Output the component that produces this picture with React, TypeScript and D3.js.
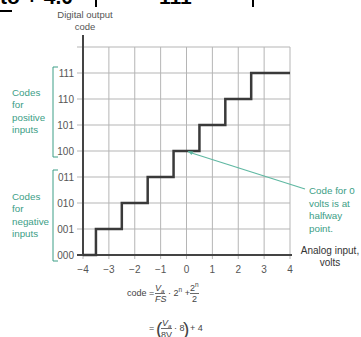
import React, { useEffect, useRef } from 'react';
import * as d3 from 'd3';

// output codes (index = code value)
const codes = ['000', '001', '010', '011', '100', '101', '110', '111'];
// analog input ticks, volts
const voltTicks = [-4, -3, -2, -1, 0, 1, 2, 3, 4];
// staircase: input where each code starts
const stepVolts = [-4, -3.5, -2.5, -1.5, -0.5, 0.5, 1.5, 2.5, 4];
const stepCodes = [0, 1, 2, 3, 4, 5, 6, 7, 7];

const posLabel = ['Codes', 'for', 'positive', 'inputs'];
const negLabel = ['Codes', 'for', 'negative', 'inputs'];
const noteLabel = ['Code for 0', 'volts is at', 'halfway', 'point.'];

const TEAL = '#3c9e86';
const FONT = 'Liberation Sans, Arial, sans-serif';

export default function App() {
  const ref = useRef<SVGSVGElement>(null);

  useEffect(() => {
    const svg = d3.select(ref.current);
    svg.selectAll('*').remove();
    svg.style('font-family', FONT);

    const x = d3.scaleLinear().domain([-4, 4]).range([83, 290]);
    const y = d3.scaleLinear().domain([0, 8]).range([255, 47]);

    // cropped heading from the page above
    svg.append('text').attr('x', 0).attr('y', 4).attr('font-size', 21).attr('font-weight', 'bold').text('to + 4.0');
    svg.append('rect').attr('x', 95).attr('y', 0).attr('width', 2).attr('height', 7).attr('fill', '#000');
    svg.append('text').attr('x', 159).attr('y', 4).attr('font-size', 21).attr('font-weight', 'bold').text('111');
    svg.append('rect').attr('x', 252).attr('y', 0).attr('width', 2).attr('height', 7).attr('fill', '#000');
    svg.append('rect').attr('x', 0).attr('y', 10).attr('width', 12).attr('height', 2).attr('fill', '#000');

    const g = svg.append('g');

    // grid
    g.selectAll('.vg')
      .data(voltTicks)
      .enter()
      .append('line')
      .attr('x1', d => x(d))
      .attr('x2', d => x(d))
      .attr('y1', y(8))
      .attr('y2', y(0) + 4)
      .attr('stroke', '#b5b5b5')
      .attr('stroke-width', 1);
    g.selectAll('.hg')
      .data(d3.range(0, 9))
      .enter()
      .append('line')
      .attr('x1', x(-4) - 6)
      .attr('x2', x(4))
      .attr('y1', d => y(d))
      .attr('y2', d => y(d))
      .attr('stroke', '#b5b5b5')
      .attr('stroke-width', 1);

    // axes
    g.append('line').attr('x1', x(-4)).attr('x2', x(-4)).attr('y1', y(0)).attr('y2', 35)
      .attr('stroke', '#444').attr('stroke-width', 2);
    g.append('line').attr('x1', x(-4) - 6).attr('x2', x(4) + 2).attr('y1', y(0)).attr('y2', y(0))
      .attr('stroke', '#444').attr('stroke-width', 2);

    // tick labels
    g.selectAll('.yl')
      .data(codes)
      .enter()
      .append('text')
      .attr('x', x(-4) - 9)
      .attr('y', (d, i) => y(i) + 3.5)
      .attr('text-anchor', 'end')
      .attr('font-size', 10)
      .attr('fill', '#555')
      .text(d => d);
    g.selectAll('.xl')
      .data(voltTicks)
      .enter()
      .append('text')
      .attr('x', d => x(d))
      .attr('y', y(0) + 18)
      .attr('text-anchor', 'middle')
      .attr('font-size', 10)
      .attr('fill', '#555')
      .text(d => (d < 0 ? '\u2212' + Math.abs(d) : String(d)));

    // staircase
    const pts = stepVolts.map((v, i) => [v, stepCodes[i]] as [number, number]);
    const line = d3.line<[number, number]>().x(d => x(d[0])).y(d => y(d[1])).curve(d3.curveStepAfter);
    g.append('path').attr('d', line(pts)).attr('fill', 'none').attr('stroke', '#3a3a3a').attr('stroke-width', 2.5);

    // axis titles
    g.selectAll('.yt')
      .data(['Digital output', 'code'])
      .enter()
      .append('text')
      .attr('x', 85)
      .attr('y', (d, i) => 18 + i * 12)
      .attr('text-anchor', 'middle')
      .attr('font-size', 9.5)
      .attr('fill', '#555')
      .text(d => d);
    g.selectAll('.xt')
      .data(['Analog input,', 'volts'])
      .enter()
      .append('text')
      .attr('x', 330)
      .attr('y', (d, i) => 254 + i * 12)
      .attr('text-anchor', 'middle')
      .attr('font-size', 10)
      .attr('fill', '#333')
      .text(d => d);

    // brackets
    const bracket = (top: number, bottom: number) =>
      `M58,${top}H53V${bottom}H58`;
    g.append('path').attr('d', bracket(y(7) - 6, y(4) + 6)).attr('fill', 'none').attr('stroke', TEAL).attr('stroke-width', 1);
    g.append('path').attr('d', bracket(y(3) - 7, y(0) + 6)).attr('fill', 'none').attr('stroke', TEAL).attr('stroke-width', 1);

    g.selectAll('.pl')
      .data(posLabel)
      .enter()
      .append('text')
      .attr('x', 12)
      .attr('y', (d, i) => 96 + i * 12.3)
      .attr('font-size', 9.8)
      .attr('fill', TEAL)
      .text(d => d);
    g.selectAll('.nl')
      .data(negLabel)
      .enter()
      .append('text')
      .attr('x', 12)
      .attr('y', (d, i) => 200 + i * 12.3)
      .attr('font-size', 9.8)
      .attr('fill', TEAL)
      .text(d => d);

    // annotation
    g.append('line').attr('x1', x(0) + 2).attr('y1', y(4) + 1).attr('x2', 305).attr('y2', 189)
      .attr('stroke', '#5fb8a2').attr('stroke-width', 1.2);
    g.append('path').attr('d', `M${x(0) + 1},${y(4)}l6,0.5l-2,3.5z`).attr('fill', '#5fb8a2');
    g.selectAll('.nt')
      .data(noteLabel)
      .enter()
      .append('text')
      .attr('x', 309)
      .attr('y', (d, i) => 194 + i * 12.5)
      .attr('font-size', 9.8)
      .attr('fill', TEAL)
      .text(d => d);

    // formula
    const f = svg.append('g').attr('font-size', 9).attr('fill', '#444');
    f.append('text').attr('x', 127).attr('y', 296).text('code =');
    f.append('text').attr('x', 155).attr('y', 291).attr('font-style', 'italic').html('V<tspan font-size="6" dy="1.5">a</tspan>');
    f.append('line').attr('x1', 155).attr('x2', 165).attr('y1', 293.5).attr('y2', 293.5).attr('stroke', '#444').attr('stroke-width', 0.8);
    f.append('text').attr('x', 155).attr('y', 302).attr('font-style', 'italic').text('FS');
    f.append('text').attr('x', 168).attr('y', 296).html('\u00b7 2<tspan font-size="6.5" dy="-4">n</tspan><tspan dy="4"> +</tspan>');
    f.append('text').attr('x', 190).attr('y', 291).html('2<tspan font-size="6.5" dy="-4">n</tspan>');
    f.append('line').attr('x1', 190).attr('x2', 199).attr('y1', 293.5).attr('y2', 293.5).attr('stroke', '#444').attr('stroke-width', 0.8);
    f.append('text').attr('x', 192).attr('y', 302).text('2');

    f.append('text').attr('x', 149).attr('y', 331).text('=');
    f.append('text').attr('x', 156).attr('y', 335).attr('font-size', 19).text('(');
    f.append('text').attr('x', 162).attr('y', 326).attr('font-style', 'italic').html('V<tspan font-size="6" dy="1.5">a</tspan>');
    f.append('line').attr('x1', 161).attr('x2', 172).attr('y1', 328.5).attr('y2', 328.5).attr('stroke', '#444').attr('stroke-width', 0.8);
    f.append('text').attr('x', 161).attr('y', 338).text('8V');
    f.append('text').attr('x', 174).attr('y', 331).text('\u00b7 8');
    f.append('text').attr('x', 183).attr('y', 335).attr('font-size', 19).text(')');
    f.append('text').attr('x', 190).attr('y', 331).text('+ 4');
  }, []);

  return (
    <svg
      ref={ref}
      width={361}
      height={337}
      style={{ position: 'absolute', left: 0, top: 0, background: '#fff' }}
    />
  );
}
